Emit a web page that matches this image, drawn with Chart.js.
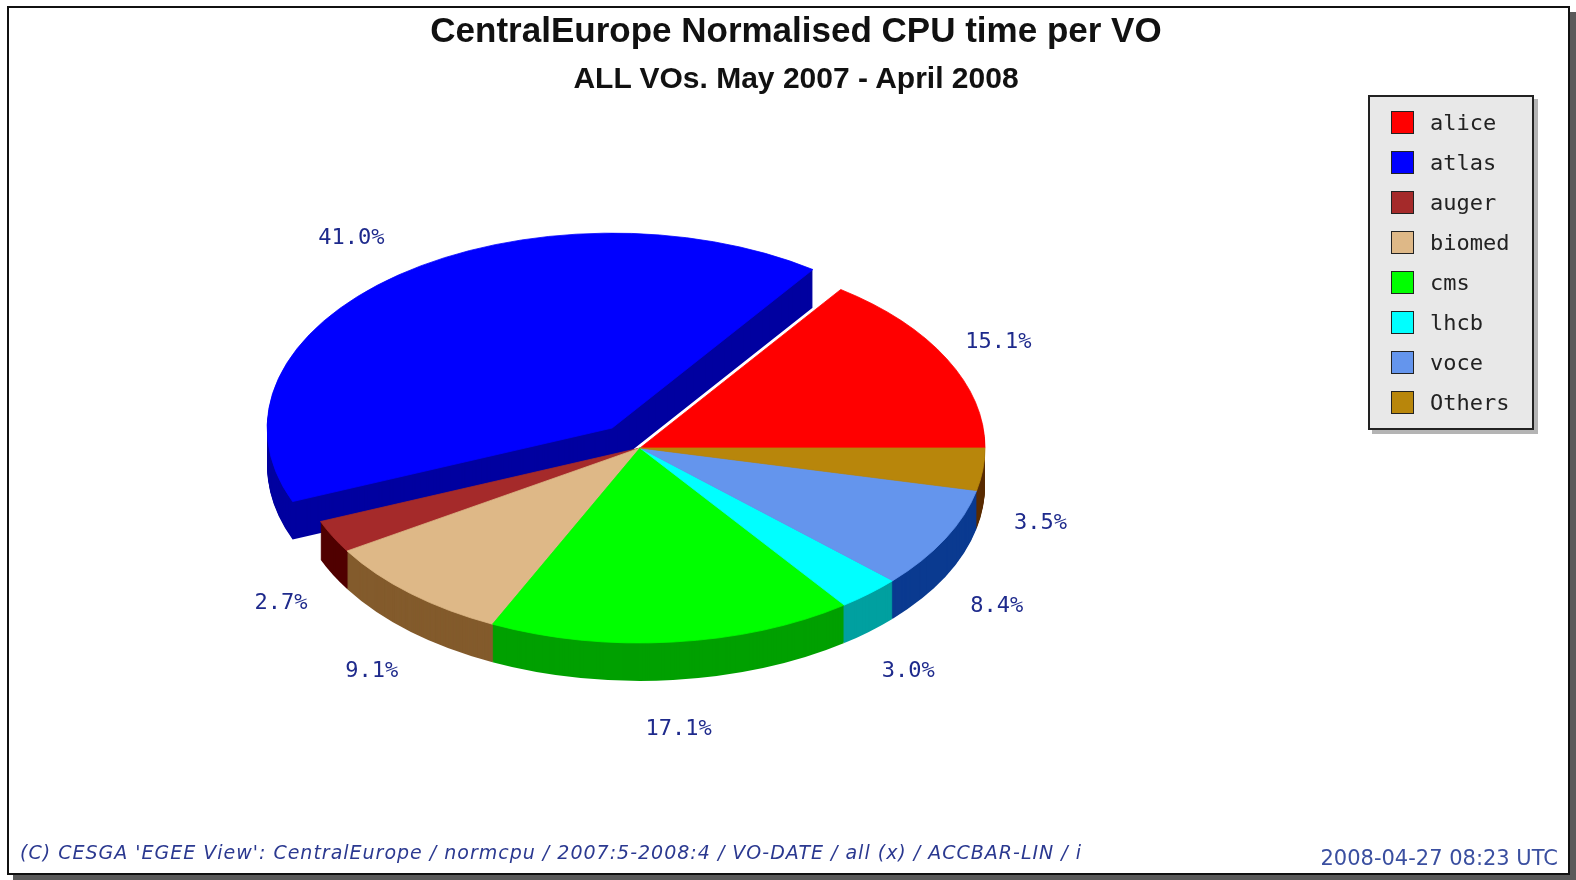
<!DOCTYPE html>
<html>
<head>
    <title>CentralEurope Normalised CPU time per VO</title>
    <script src="https://cdn.jsdelivr.net/npm/chart.js"></script>
    <style>
        body { margin: 0; width: 1576px; height: 880px; position: relative; overflow: hidden; background: #fff; }
        #frame { position: absolute; left: 7px; top: 6px; width: 1563px; height: 869px; box-sizing: border-box;
                 border: 2px solid #111; background: #fff; box-shadow: 6px 6px 0 #5a5a5a; }
        #pie { position: absolute; left: 0; top: 0; }
        .title { position: absolute; left: 0; width: 1592px; text-align: center; color: #111;
                 font-family: 'Liberation Sans', Arial, sans-serif; font-weight: bold; }
        #title { top: 12px; font-size: 35px; line-height: 35px; }
        #subtitle { top: 63px; font-size: 30px; line-height: 30px; }
        #legend { position: absolute; left: 1368px; top: 95px; width: 166px; height: 335px; box-sizing: border-box;
                  border: 2px solid #222; background: #e8e8e8; box-shadow: 4px 4px 0 #b4b4b4; padding-top: 5px;
                  font: 22px 'DejaVu Sans Mono', monospace; color: #222; }
        #legend .row { height: 40.1px; display: flex; align-items: center; }
        #legend .sw { width: 21px; height: 21px; border: 1px solid #222; margin-left: 21px; margin-right: 16px; }
        #foot-left { position: absolute; left: 20px; top: 841px; font: italic 19px 'DejaVu Sans', sans-serif;
                     letter-spacing: 1px; line-height: 22px; color: #2b3990; white-space: nowrap; }
        #foot-right { position: absolute; right: 18px; top: 846px; font: 21px 'DejaVu Sans', sans-serif;
                      line-height: 24px; color: #3a4fa0; white-space: nowrap; }
    </style>
</head>
<body>
    <div id="frame"></div>
    <canvas id="pie" width="1576" height="880"></canvas>
    <div class="title" id="title">CentralEurope Normalised CPU time per VO</div>
    <div class="title" id="subtitle">ALL VOs. May 2007 - April 2008</div>
    <div id="legend"></div>
    <div id="foot-left">(C) CESGA 'EGEE View': CentralEurope / normcpu / 2007:5-2008:4 / VO-DATE / all (x) / ACCBAR-LIN / i</div>
    <div id="foot-right">2008-04-27 08:23 UTC</div>

    <script>
        // share of normalised CPU time per VO (percent), legend order
        const vos = ['alice', 'atlas', 'auger', 'biomed', 'cms', 'lhcb', 'voce', 'Others'];
        const shares = [15.1, 41.0, 2.7, 9.1, 17.1, 3.0, 8.4, 3.5];
        const topColors = ['#ff0000', '#0000ff', '#a52a2a', '#deb887', '#00ff00', '#00ffff', '#6495ed', '#b8860b'];
        const sideColors = ['#a00000', '#0000a0', '#500000', '#835b2c', '#00a000', '#00a0a0', '#0a3a90', '#5a2c00'];
        const explode = [0, 45, 0, 0, 0, 0, 0, 0];

        // legend box
        const legendEl = document.getElementById('legend');
        vos.forEach((name, i) => {
            const row = document.createElement('div');
            row.className = 'row';
            row.innerHTML = '<span class="sw" style="background:' + topColors[i] + '"></span><span>' + name + '</span>';
            legendEl.appendChild(row);
        });

        // fake 3D: squash the pie, stack darker copies below it, pull out exploded slices
        const pie3d = {
            id: 'pie3d',
            beforeDatasetsDraw(chart, args, opts) {
                const ctx = chart.ctx;
                const arcs = chart.getDatasetMeta(0).data;
                const cx = arcs[0].x, cy = arcs[0].y;
                const place = (arc, i, drop) => {
                    const mid = (arc.startAngle + arc.endAngle) / 2;
                    const e = opts.explode[i] || 0;
                    ctx.translate(cx, cy + drop);
                    ctx.scale(1, -opts.tilt);   // flipped so slices run counter-clockwise
                    ctx.translate(-cx, -cy);
                    ctx.translate(Math.cos(mid) * e, Math.sin(mid) * e);
                };
                for (let k = opts.depth; k >= 1; k--) {
                    arcs.forEach((arc, i) => {
                        ctx.save();
                        place(arc, i, k);
                        ctx.fillStyle = opts.sideColors[i];
                        ctx.beginPath();
                        ctx.moveTo(arc.x, arc.y);
                        ctx.arc(arc.x, arc.y, arc.outerRadius, arc.startAngle, arc.endAngle);
                        ctx.closePath();
                        ctx.fill();
                        ctx.restore();
                    });
                }
                arcs.forEach((arc, i) => {
                    ctx.save();
                    place(arc, i, 0);
                    arc.draw(ctx);
                    ctx.restore();
                });
                return false;
            },
            afterDraw(chart, args, opts) {
                const ctx = chart.ctx;
                const arcs = chart.getDatasetMeta(0).data;
                const values = chart.data.datasets[0].data;
                ctx.save();
                ctx.font = opts.labelFont;
                ctx.fillStyle = opts.labelColor;
                ctx.textAlign = 'center';
                ctx.textBaseline = 'middle';
                arcs.forEach((arc, i) => {
                    const mid = (arc.startAngle + arc.endAngle) / 2;
                    const ux = Math.cos(mid), uy = -Math.sin(mid);
                    const e = (opts.explode[i] || 0) * 1.4;
                    const rx = arc.outerRadius + opts.labelGapX + e;
                    const ry = arc.outerRadius * opts.tilt + opts.labelGapY + e * opts.tilt;
                    const x = arc.x + ux * rx;
                    const y = arc.y + uy * ry + (uy > 0 ? opts.depth + opts.labelDrop : 0);
                    ctx.fillText(values[i].toFixed(1) + '%', x, y);
                });
                ctx.restore();
            }
        };

        new Chart(document.getElementById('pie').getContext('2d'), {
            type: 'pie',
            data: {
                labels: vos,
                datasets: [{
                    data: shares,
                    backgroundColor: topColors,
                    borderColor: topColors,
                    borderWidth: 1,
                    radius: 345
                }]
            },
            options: {
                responsive: false,
                animation: false,
                rotation: 90,
                events: [],
                layout: { padding: { left: 0, right: 296, top: 16, bottom: 0 } },
                plugins: {
                    legend: { display: false },
                    tooltip: { enabled: false },
                    pie3d: {
                        tilt: 0.565,
                        depth: 38,
                        explode: explode,
                        sideColors: sideColors,
                        labelFont: '22px "DejaVu Sans Mono", monospace',
                        labelColor: '#1e2a8c',
                        labelGapX: 58,
                        labelGapY: 37,
                        labelDrop: 12
                    }
                }
            },
            plugins: [pie3d]
        });
    </script>
</body>
</html>
